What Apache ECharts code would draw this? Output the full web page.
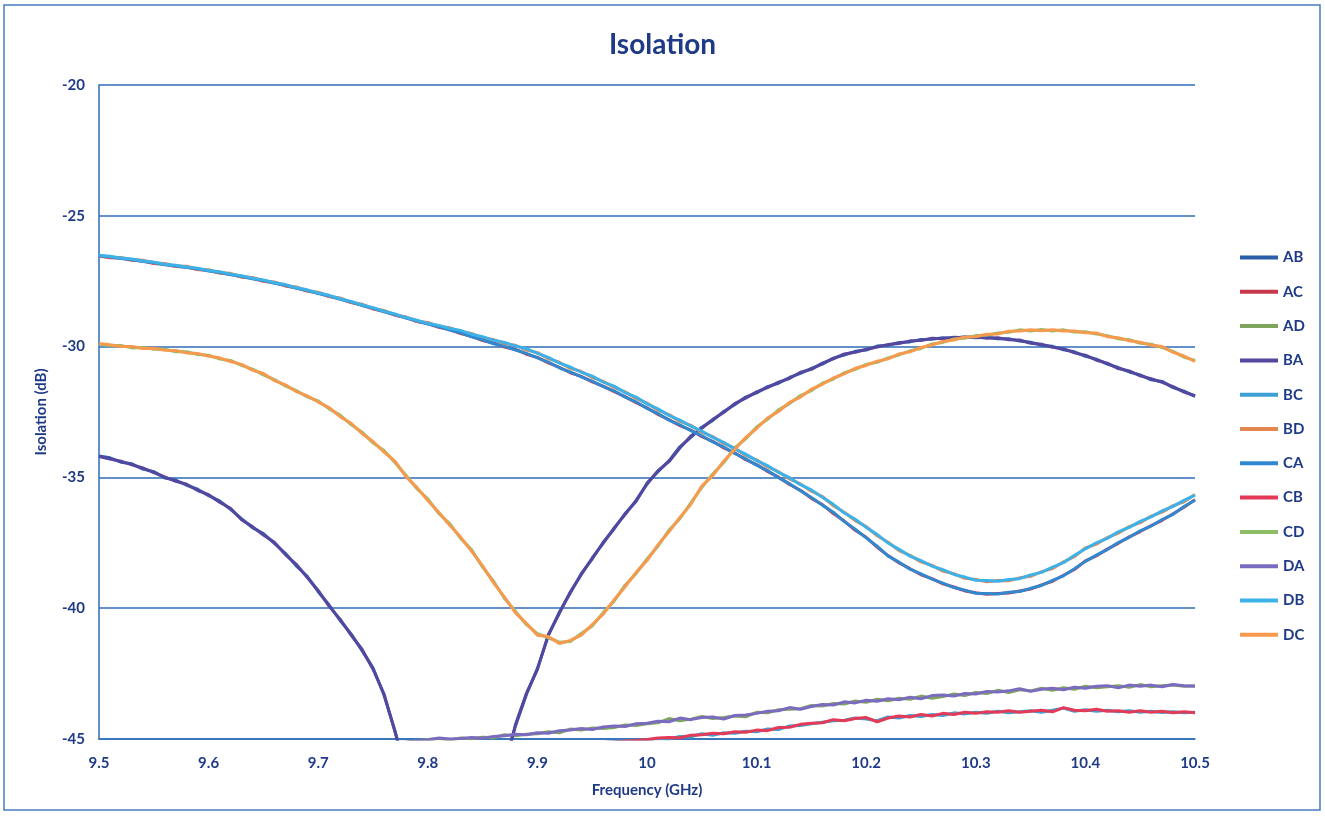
<!DOCTYPE html>
<html>
<head>
<meta charset="utf-8">
<script src="https://cdn.jsdelivr.net/npm/echarts@6/dist/echarts.min.js"></script>
<style>
html,body{margin:0;padding:0;background:#fff;}
#chart{width:1325px;height:823px;}
</style>
</head>
<body>
<div id="chart"></div>
<script>
// Frequency points (GHz)
const freq = [
9.50,9.51,9.52,9.53,9.54,9.55,9.56,9.57,9.58,9.59,
9.60,9.61,9.62,9.63,9.64,9.65,9.66,9.67,9.68,9.69,
9.70,9.71,9.72,9.73,9.74,9.75,9.76,9.77,9.78,9.79,
9.80,9.81,9.82,9.83,9.84,9.85,9.86,9.87,9.88,9.89,
9.90,9.91,9.92,9.93,9.94,9.95,9.96,9.97,9.98,9.99,
10.00,10.01,10.02,10.03,10.04,10.05,10.06,10.07,10.08,10.09,
10.10,10.11,10.12,10.13,10.14,10.15,10.16,10.17,10.18,10.19,
10.20,10.21,10.22,10.23,10.24,10.25,10.26,10.27,10.28,10.29,
10.30,10.31,10.32,10.33,10.34,10.35,10.36,10.37,10.38,10.39,
10.40,10.41,10.42,10.43,10.44,10.45,10.46,10.47,10.48,10.49,
10.50
];
const seriesNames = ["AB","AC","AD","BA","BC","BD","CA","CB","CD","DA","DB","DC"];
const xTickLabels = ["9.5","9.6","9.7","9.8","9.9","10","10.1","10.2","10.3","10.4","10.5"];
const yTickLabels = ["-45","-40","-35","-30","-25","-20"];

const AB = [
-34.18,-34.25,-34.42,-34.48,-34.68,-34.78,-35.02,-35.10,-35.30,-35.45,
-35.70,-35.90,-36.22,-36.58,-36.92,-37.15,-37.52,-37.90,-38.38,-38.78,
-39.37,-39.88,-40.47,-40.98,-41.62,-42.28,-43.32,-44.68,-46.2,-48.0,
-50.0,-52.0,-54.0,-55.0,-54.0,-51.5,-48.5,-46.0,-44.5,-43.3,
-42.3,-41.05,-40.15,-39.42,-38.68,-38.12,-37.48,-36.97,-36.38,-35.92,
-35.22,-34.78,-34.37,-33.83,-33.47,-33.08,-32.82,-32.48,-32.22,-31.93,
-31.77,-31.53,-31.40,-31.18,-31.02,-30.83,-30.67,-30.44,-30.32,-30.18,
-30.13,-29.98,-29.95,-29.84,-29.82,-29.73,-29.72,-29.66,-29.68,-29.62,
-29.66,-29.64,-29.70,-29.70,-29.79,-29.83,-29.95,-29.99,-30.12,-30.20,
-30.37,-30.48,-30.67,-30.80,-30.97,-31.08,-31.27,-31.33,-31.57,-31.70,
-31.90
];
const BA = [
-34.20,-34.30,-34.38,-34.52,-34.64,-34.82,-34.98,-35.15,-35.26,-35.50,
-35.66,-35.95,-36.18,-36.62,-36.88,-37.20,-37.48,-37.95,-38.32,-38.83,
-39.32,-39.93,-40.42,-41.03,-41.57,-42.33,-43.27,-44.72,-46.3,-48.1,
-50.2,-52.1,-54.1,-55.1,-54.2,-51.6,-48.6,-46.1,-44.45,-43.25,
-42.35,-41.0,-40.2,-39.38,-38.72,-38.08,-37.52,-36.93,-36.42,-35.88,
-35.26,-34.74,-34.40,-33.88,-33.42,-33.12,-32.78,-32.52,-32.18,-31.97,
-31.73,-31.57,-31.36,-31.22,-30.98,-30.87,-30.63,-30.47,-30.28,-30.22,
-30.10,-30.02,-29.92,-29.88,-29.78,-29.77,-29.68,-29.70,-29.64,-29.66,
-29.62,-29.68,-29.66,-29.74,-29.75,-29.87,-29.91,-30.03,-30.08,-30.24,
-30.33,-30.52,-30.63,-30.84,-30.93,-31.12,-31.23,-31.37,-31.53,-31.74,
-31.88
];
const CD = [
-29.90,-29.97,-29.96,-30.05,-30.03,-30.10,-30.10,-30.20,-30.20,-30.30,
-30.33,-30.47,-30.53,-30.72,-30.86,-31.08,-31.26,-31.50,-31.68,-31.92,
-32.08,-32.38,-32.62,-32.98,-33.27,-33.68,-33.97,-34.43,-34.92,-35.43,
-35.82,-36.38,-36.77,-37.33,-37.77,-38.43,-38.97,-39.63,-40.12,-40.63,
-40.97,-41.13,-41.30,-41.27,-40.97,-40.68,-40.17,-39.73,-39.12,-38.68,
-38.12,-37.63,-37.02,-36.58,-35.97,-35.38,-34.87,-34.43,-33.87,-33.53,
-33.07,-32.78,-32.42,-32.18,-31.87,-31.68,-31.40,-31.24,-31.00,-30.87,
-30.68,-30.60,-30.43,-30.32,-30.16,-30.07,-29.90,-29.84,-29.71,-29.67,
-29.58,-29.57,-29.48,-29.45,-29.36,-29.40,-29.35,-29.40,-29.36,-29.44,
-29.43,-29.52,-29.58,-29.70,-29.74,-29.87,-29.91,-30.04,-30.18,-30.40,
-30.53
];
const DC = [
-29.88,-29.93,-30.00,-30.00,-30.07,-30.06,-30.14,-30.15,-30.24,-30.26,
-30.37,-30.43,-30.57,-30.68,-30.90,-31.03,-31.30,-31.46,-31.72,-31.88,
-32.12,-32.33,-32.68,-32.93,-33.32,-33.63,-34.03,-34.38,-34.97,-35.38,
-35.88,-36.33,-36.83,-37.28,-37.83,-38.38,-39.03,-39.58,-40.18,-40.58,
-41.03,-41.08,-41.35,-41.23,-41.03,-40.63,-40.23,-39.68,-39.18,-38.63,
-38.18,-37.58,-37.08,-36.53,-36.03,-35.33,-34.93,-34.38,-33.93,-33.48,
-33.13,-32.73,-32.48,-32.13,-31.93,-31.63,-31.44,-31.20,-31.04,-30.83,
-30.72,-30.56,-30.47,-30.28,-30.20,-30.03,-29.94,-29.80,-29.75,-29.63,
-29.62,-29.53,-29.52,-29.41,-29.40,-29.36,-29.39,-29.36,-29.40,-29.40,
-29.47,-29.48,-29.62,-29.66,-29.78,-29.83,-29.95,-30.00,-30.22,-30.36,
-30.57
];
const AC = [
-26.54,-26.60,-26.61,-26.70,-26.73,-26.82,-26.85,-26.94,-26.96,-27.05,
-27.09,-27.19,-27.23,-27.34,-27.39,-27.50,-27.56,-27.68,-27.75,-27.88,
-27.95,-28.09,-28.17,-28.32,-28.41,-28.56,-28.65,-28.80,-28.89,-29.04,
-29.12,-29.26,-29.35,-29.50,-29.61,-29.77,-29.86,-30.02,-30.11,-30.29,
-30.41,-30.62,-30.79,-31.00,-31.14,-31.35,-31.51,-31.72,-31.91,-32.14,
-32.34,-32.59,-32.79,-33.02,-33.19,-33.44,-33.62,-33.87,-34.06,-34.32,
-34.51,-34.77,-34.99,-35.27,-35.49,-35.80,-36.04,-36.38,-36.67,-37.02,
-37.29,-37.67,-37.99,-38.27,-38.49,-38.72,-38.87,-39.07,-39.19,-39.34,
-39.41,-39.47,-39.44,-39.42,-39.34,-39.27,-39.11,-38.97,-38.74,-38.52,
-38.19,-38.00,-37.74,-37.52,-37.27,-37.07,-36.84,-36.64,-36.39,-36.14,
-35.85
];
const CA = [
-26.53,-26.57,-26.63,-26.67,-26.75,-26.79,-26.87,-26.91,-26.98,-27.02,
-27.11,-27.16,-27.25,-27.31,-27.41,-27.47,-27.58,-27.65,-27.77,-27.85,
-27.97,-28.06,-28.19,-28.29,-28.43,-28.53,-28.67,-28.77,-28.91,-29.01,
-29.14,-29.23,-29.37,-29.47,-29.63,-29.74,-29.89,-29.99,-30.13,-30.26,
-30.43,-30.59,-30.81,-30.97,-31.16,-31.32,-31.53,-31.69,-31.93,-32.11,
-32.36,-32.56,-32.81,-32.99,-33.21,-33.41,-33.64,-33.84,-34.08,-34.29,
-34.53,-34.74,-35.01,-35.24,-35.51,-35.77,-36.06,-36.33,-36.69,-36.98,
-37.31,-37.63,-38.01,-38.24,-38.51,-38.69,-38.89,-39.04,-39.21,-39.31,
-39.43,-39.44,-39.46,-39.39,-39.36,-39.24,-39.13,-38.94,-38.76,-38.49,
-38.21,-37.97,-37.76,-37.49,-37.29,-37.04,-36.86,-36.61,-36.41,-36.11,
-35.87
];
const BD = [
-26.52,-26.58,-26.59,-26.68,-26.70,-26.80,-26.82,-26.93,-26.93,-27.04,
-27.06,-27.18,-27.20,-27.33,-27.36,-27.49,-27.53,-27.67,-27.72,-27.87,
-27.92,-28.08,-28.14,-28.31,-28.38,-28.55,-28.62,-28.79,-28.86,-29.03,
-29.08,-29.23,-29.28,-29.43,-29.50,-29.67,-29.73,-29.89,-29.95,-30.13,
-30.23,-30.46,-30.60,-30.83,-30.95,-31.18,-31.33,-31.56,-31.73,-31.98,
-32.16,-32.43,-32.60,-32.86,-33.01,-33.28,-33.44,-33.71,-33.88,-34.16,
-34.33,-34.60,-34.78,-35.06,-35.25,-35.53,-35.73,-36.08,-36.33,-36.65,
-36.88,-37.23,-37.48,-37.80,-37.98,-38.23,-38.36,-38.58,-38.68,-38.86,
-38.90,-38.99,-38.94,-38.95,-38.84,-38.78,-38.60,-38.48,-38.23,-38.03,
-37.70,-37.55,-37.30,-37.13,-36.88,-36.73,-36.48,-36.33,-36.08,-35.93,
-35.65
];
const DB = [
-26.51,-26.55,-26.61,-26.65,-26.73,-26.77,-26.85,-26.89,-26.96,-27.00,
-27.09,-27.14,-27.23,-27.29,-27.39,-27.45,-27.56,-27.63,-27.75,-27.83,
-27.95,-28.04,-28.17,-28.27,-28.41,-28.51,-28.65,-28.75,-28.89,-28.99,
-29.11,-29.19,-29.31,-29.38,-29.53,-29.62,-29.76,-29.84,-29.98,-30.08,
-30.26,-30.41,-30.63,-30.78,-30.98,-31.13,-31.36,-31.51,-31.76,-31.93,
-32.19,-32.38,-32.63,-32.81,-33.04,-33.23,-33.47,-33.66,-33.91,-34.11,
-34.36,-34.55,-34.81,-35.01,-35.28,-35.48,-35.76,-36.03,-36.36,-36.60,
-36.91,-37.18,-37.51,-37.75,-38.01,-38.18,-38.39,-38.53,-38.71,-38.81,
-38.93,-38.94,-38.97,-38.90,-38.87,-38.73,-38.63,-38.43,-38.26,-37.98,
-37.73,-37.50,-37.33,-37.08,-36.91,-36.68,-36.51,-36.28,-36.11,-35.88,
-35.68
];
const AD = [
-47.5,-47.3,-47.2,-47.0,-46.9,-46.7,-46.6,-46.4,-46.3,-46.2,
-46.1,-46.0,-45.9,-45.8,-45.75,-45.7,-45.6,-45.55,-45.5,-45.45,
-45.4,-45.35,-45.3,-45.28,-45.25,-45.2,-45.18,-45.15,-45.12,-45.08,
-45.02,-44.98,-45.04,-44.96,-44.99,-44.93,-44.95,-44.84,-44.88,-44.82,
-44.80,-44.72,-44.76,-44.62,-44.66,-44.58,-44.60,-44.56,-44.46,-44.48,
-44.42,-44.38,-44.22,-44.30,-44.24,-44.14,-44.22,-44.18,-44.12,-44.15,
-43.98,-44.00,-43.88,-43.86,-43.84,-43.72,-43.74,-43.64,-43.66,-43.55,
-43.60,-43.48,-43.54,-43.44,-43.48,-43.36,-43.44,-43.38,-43.28,-43.34,
-43.22,-43.26,-43.14,-43.22,-43.12,-43.16,-43.06,-43.14,-43.04,-43.10,
-42.98,-43.04,-43.00,-42.96,-43.02,-42.92,-43.00,-42.96,-42.94,-42.98,
-42.96
];
const DA = [
-47.6,-47.4,-47.2,-47.1,-46.9,-46.8,-46.6,-46.5,-46.3,-46.2,
-46.1,-46.0,-45.9,-45.85,-45.75,-45.7,-45.62,-45.55,-45.5,-45.45,
-45.4,-45.36,-45.32,-45.28,-45.24,-45.21,-45.18,-45.14,-45.11,-45.07,
-45.04,-44.96,-45.00,-44.98,-44.94,-44.97,-44.90,-44.88,-44.82,-44.84,
-44.76,-44.78,-44.68,-44.66,-44.60,-44.64,-44.54,-44.50,-44.52,-44.42,
-44.40,-44.32,-44.34,-44.20,-44.26,-44.18,-44.16,-44.24,-44.10,-44.08,
-44.02,-43.94,-43.92,-43.80,-43.86,-43.76,-43.68,-43.70,-43.58,-43.62,
-43.52,-43.56,-43.46,-43.50,-43.40,-43.46,-43.34,-43.32,-43.36,-43.26,
-43.28,-43.18,-43.20,-43.16,-43.08,-43.18,-43.10,-43.06,-43.12,-43.02,
-43.06,-42.98,-42.96,-43.04,-42.94,-42.98,-42.94,-43.00,-42.92,-42.96,
-42.98
];
const BC = [
-48.5,-48.3,-48.2,-48.0,-47.9,-47.7,-47.6,-47.5,-47.3,-47.2,
-47.1,-47.0,-46.9,-46.8,-46.7,-46.6,-46.5,-46.4,-46.35,-46.3,
-46.2,-46.1,-46.05,-46.0,-45.9,-45.85,-45.8,-45.75,-45.7,-45.65,
-45.6,-45.55,-45.5,-45.48,-45.45,-45.4,-45.38,-45.35,-45.32,-45.3,
-45.28,-45.25,-45.22,-45.2,-45.18,-45.15,-45.13,-45.1,-45.08,-45.06,
-45.04,-44.98,-45.00,-44.90,-44.92,-44.80,-44.86,-44.76,-44.78,-44.70,
-44.72,-44.62,-44.64,-44.50,-44.48,-44.42,-44.36,-44.30,-44.28,-44.20,
-44.24,-44.30,-44.16,-44.20,-44.10,-44.14,-44.06,-44.10,-44.00,-44.04,
-43.98,-44.02,-43.94,-44.00,-43.96,-43.92,-43.98,-43.90,-43.82,-43.94,
-43.88,-43.94,-43.90,-43.96,-43.92,-43.98,-43.94,-43.99,-43.96,-44.00,
-43.98
];
const CB = [
-48.6,-48.4,-48.2,-48.1,-47.9,-47.8,-47.6,-47.5,-47.4,-47.2,
-47.1,-47.0,-46.95,-46.8,-46.7,-46.65,-46.5,-46.45,-46.35,-46.3,
-46.2,-46.15,-46.05,-46.0,-45.92,-45.85,-45.8,-45.76,-45.7,-45.66,
-45.6,-45.56,-45.52,-45.48,-45.45,-45.42,-45.38,-45.36,-45.32,-45.3,
-45.28,-45.26,-45.22,-45.2,-45.18,-45.16,-45.13,-45.11,-45.08,-45.06,
-45.02,-44.96,-44.94,-44.95,-44.86,-44.84,-44.78,-44.80,-44.72,-44.74,
-44.66,-44.68,-44.56,-44.55,-44.44,-44.40,-44.38,-44.26,-44.30,-44.22,
-44.18,-44.34,-44.20,-44.12,-44.16,-44.06,-44.12,-44.02,-44.06,-43.98,
-44.02,-43.96,-43.98,-43.92,-43.98,-43.94,-43.90,-43.96,-43.80,-43.90,
-43.92,-43.86,-43.94,-43.92,-43.98,-43.92,-43.98,-43.94,-44.00,-43.96,
-44.00
];

const seriesData = {AB, AC, AD, BA, BC, BD, CA, CB, CD, DA, DB, DC};
const seriesColors = {
  AB: '#2A5DAA', AC: '#C8384C', AD: '#7FA55C', BA: '#55479F',
  BC: '#3E9FD4', BD: '#E4864F', CA: '#2F88D0', CB: '#E23A57',
  CD: '#8DBE66', DA: '#7B6BC0', DB: '#3DB2E8', DC: '#F79A4E'
};

const navy = '#1F3A86';
const gridBlue = '#2E6DB8';
const fontFam = 'Lato, "Open Sans", "DejaVu Sans", sans-serif';

const chart = echarts.init(document.getElementById('chart'), null, {renderer: 'canvas'});
chart.setOption({
  backgroundColor: '#ffffff',
  animation: false,
  title: {
    text: 'Isolation',
    left: 'center',
    top: 26,
    textStyle: {color: navy, fontSize: 28, fontWeight: 'bold', fontFamily: fontFam}
  },
  graphic: [{
    type: 'rect',
    shape: {x: 4, y: 5, width: 1316, height: 805},
    style: {fill: 'none', stroke: '#4A7CC0', lineWidth: 1.5},
    silent: true
  }],
  legend: {
    orient: 'vertical',
    left: 1240,
    top: 250,
    padding: 0,
    itemWidth: 38,
    itemHeight: 14,
    itemGap: 19.3,
    data: seriesNames,
    textStyle: {color: navy, fontSize: 15, fontWeight: 'bold', fontFamily: fontFam},
    icon: 'path://M0,6 L38,6 L38,10 L0,10 Z'
  },
  grid: {left: 99, right: 130, top: 85, bottom: 84, containLabel: false},
  xAxis: {
    type: 'value',
    min: 9.5, max: 10.5, interval: 0.1,
    name: 'Frequency (GHz)',
    nameLocation: 'middle',
    nameGap: 44,
    nameTextStyle: {color: navy, fontSize: 15, fontWeight: 'bold', fontFamily: fontFam},
    axisLine: {show: true, lineStyle: {color: gridBlue, width: 1.5}},
    axisTick: {show: false},
    splitLine: {show: false},
    axisLabel: {
      color: navy, fontSize: 15, fontWeight: 'bold', fontFamily: fontFam, margin: 17,
      formatter: v => xTickLabels[Math.round((v - 9.5) / 0.1)]
    }
  },
  yAxis: {
    type: 'value',
    min: -45, max: -20, interval: 5,
    name: 'Isolation (dB)',
    nameLocation: 'middle',
    nameGap: 50,
    nameRotate: 90,
    nameTextStyle: {color: navy, fontSize: 15, fontWeight: 'bold', fontFamily: fontFam},
    axisLine: {show: true, lineStyle: {color: gridBlue, width: 1.5}},
    axisTick: {show: false},
    splitLine: {show: true, lineStyle: {color: gridBlue, width: 1.5}},
    axisLabel: {
      color: navy, fontSize: 15, fontWeight: 'bold', fontFamily: fontFam, margin: 14,
      formatter: v => yTickLabels[Math.round((v + 45) / 5)]
    }
  },
  series: seriesNames.map(n => ({
    name: n,
    type: 'line',
    symbol: 'none',
    clip: true,
    color: seriesColors[n],
    lineStyle: {width: 3, color: seriesColors[n]},
    data: freq.map((f, i) => [f, seriesData[n][i]])
  }))
});
</script>
</body>
</html>
